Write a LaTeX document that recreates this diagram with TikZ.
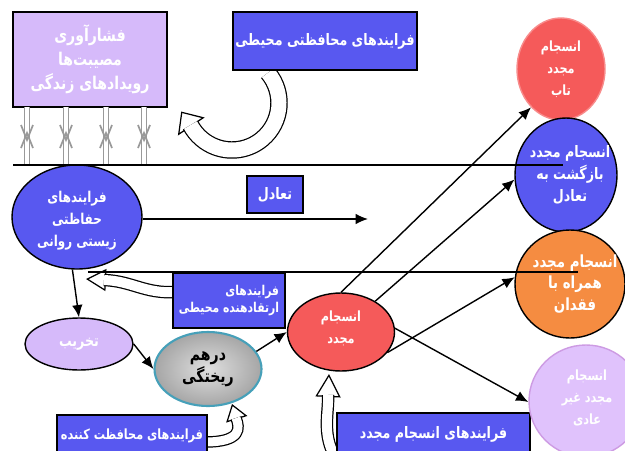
\documentclass[tikz,border=0pt]{standalone}
\usepackage{fontspec}
\newfontfamily\farsi[Script=Arabic,FakeStretch=0.8]{DejaVu Sans}
\TeXXeTstate=1
\usetikzlibrary{calc}
\usetikzlibrary{shapes.geometric}
\usetikzlibrary{arrows.meta}
\tikzset{>=Latex}
\definecolor{lav}{RGB}{214,186,250}
\definecolor{lilac}{RGB}{224,194,252}
\definecolor{bluef}{RGB}{88,88,240}
\definecolor{redf}{RGB}{245,90,90}
\definecolor{orangef}{RGB}{245,140,65}
\definecolor{tealb}{RGB}{70,160,185}
\newcommand{\fa}[1]{\beginR#1\endR}
\newcommand{\fsz}[1]{\farsi\bfseries\fontsize{#1}{12.5}\selectfont}
\def\px{0.02cm}
\tikzstyle{box}=[rectangle,draw=black,line width=0.8pt,inner sep=1pt,text=white,align=center]
\tikzstyle{blob}=[ellipse,draw=black,line width=0.8pt,inner sep=0pt]
\tikzstyle{txt}=[text=white,align=center,inner sep=0pt]
\tikzstyle{link}=[->,line width=0.8pt,>={Latex[length=7pt,width=6pt]}]
\tikzstyle{band}=[line width=0.7pt,double=white,double distance=0.2cm]
\tikzstyle{shaft}=[gray!80,line width=0.7pt,double=white,double distance=0.09cm]

\begin{document}
\begin{tikzpicture}[x=\px,y=-\px,font=\fsz{9}]
  \useasboundingbox (0,0) rectangle (625,450);

  % hollow arrows, tails go under the boxes
  \coordinate (ac) at (232,103);
  \draw[line width=0.7pt,-{Triangle[length=0.36cm,width=0.64cm,fill=white]}]
    ($(ac)+(150:47)$) -- ($(ac)+(150:47)+(236:18)$);
  \draw[band,double distance=0.3cm]
    ($(ac)+(-40:47)$) arc[start angle=-40,end angle=152,radius=47];

  \draw[line width=0.7pt,-{Triangle[length=0.4cm,width=0.44cm,fill=white]}]
    (106,280) -- (86,279);
  \draw[band] (176,292) .. controls (145,294) and (132,281) .. (104,280);

  \draw[line width=0.7pt,-{Triangle[length=0.32cm,width=0.44cm,fill=white]}]
    (237,420) -- (232,404);
  \draw[band,double distance=0.18cm] (205,442) .. controls (242,442) and (240,428) .. (236,418);

  \draw[line width=0.7pt,-{Triangle[length=0.46cm,width=0.5cm,fill=white]}]
    (328,397) -- (329,374);
  \draw[band] (334,455) .. controls (322,432) and (329,412) .. (328,395);

  % boxes
  \node[box,fill=lav,minimum width=154*\px,minimum height=95*\px,font=\farsi\bfseries\fontsize{10}{13.6}\selectfont]
    (stress) at (90,59.5) {\fa{فشارآوری}\\\fa{مصیبت‌ها}\\\fa{رویدادهای زندگی}};
  \node[box,fill=bluef,minimum width=184*\px,minimum height=58*\px] (envprot) at (325,41)
    {\fa{فرایندهای محافظتی محیطی}};
  \node[box,fill=bluef,minimum width=56*\px,minimum height=37*\px] (balance) at (275,194.5)
    {\fa{تعادل}};
  \node[box,fill=bluef,minimum width=112*\px,minimum height=55*\px,align=right,
    font=\farsi\bfseries\fontsize{7.7}{9.8}\selectfont]
    (promote) at (229,300.5) {\fa{فرایندهای}\\\fa{ارتقادهنده محیطی}};
  \node[box,fill=bluef,minimum width=150*\px,minimum height=42*\px,font=\fsz{8}] (protect) at (132,436)
    {\fa{فرایندهای محافظت کننده}};
  \node[box,fill=bluef,minimum width=193*\px,minimum height=42*\px] (reintproc) at (433.5,434)
    {\fa{فرایندهای انسجام مجدد}};

  % ellipses
  \node[blob,fill=bluef,minimum width=130*\px,minimum height=104*\px] (bio) at (77,217) {};
  \node[txt,font=\fsz{8.5}] (biotxt) at (77,221) {\fa{فرایندهای}\\\fa{حفاظتی}\\\fa{زیستی روانی}};
  \node[blob,fill=lav,minimum width=108*\px,minimum height=52*\px] (destroy) at (79,344) {};
  \node[txt] (destroytxt) at (destroy) {\fa{تخریب}};
  \node[blob,draw=tealb,line width=1.2pt,inner color=gray!25,outer color=gray!70,
    minimum width=107*\px,minimum height=74*\px] (chaos) at (208,369) {};
  \node[txt,text=black,font=\fsz{10}] (chaostxt) at (chaos) {\fa{درهم}\\\fa{ریختگی}};
  \node[blob,fill=redf,minimum width=107*\px,minimum height=78*\px] (reint) at (341,332) {};
  \node[txt,font=\fsz{8}] (reinttxt) at (341,328) {\fa{انسجام}\\\fa{مجدد}};
  \node[blob,fill=redf,draw=redf!70,minimum width=88*\px,minimum height=102*\px] (resil) at (561,69) {};
  \node[txt,font=\fsz{8}] (resiltxt) at (561,69) {\fa{انسجام}\\\fa{مجدد}\\\fa{تاب}};
  \node[blob,fill=bluef,minimum width=102*\px,minimum height=114*\px] (back) at (566,175) {};
  \node[txt] (backtxt) at (570,175) {\fa{انسجام مجدد}\\\fa{بازگشت به}\\\fa{تعادل}};
  \node[blob,fill=orangef,minimum width=110*\px,minimum height=108*\px] (loss) at (570,284) {};
  \node[txt,font=\fsz{9.5}] (losstxt) at (575,284) {\fa{انسجام مجدد}\\\fa{همراه با}\\\fa{فقدان}};
  \node[blob,fill=lilac,draw=lilac!80!violet,minimum width=114*\px,minimum height=112*\px] (abnormal) at (586,401) {};
  \node[txt,font=\fsz{8}] (abnormaltxt) at (587,398) {\fa{انسجام}\\\fa{مجدد غیر}\\\fa{عادی}};

  % gray arrows under the stress box
  \foreach \x in {27,66,106,144} {
    \draw[shaft] (\x,107) -- (\x,165);
    \draw[gray!80,line width=1pt] (\x-6,125) -- (\x,140) -- (\x+6,125);
    \draw[gray!80,line width=1pt] (\x-6,148) -- (\x,133) -- (\x+6,148);
  }

  % long lines
  \draw[line width=0.8pt] (13,165) -- (563,165);
  \draw[line width=0.8pt] (88,272) -- (578,272);

  % links
  \coordinate (eqend) at (368,219);
  \draw[link] (bio.east |- eqend) -- (eqend);
  \draw[link] (bio.-95) -- (destroy.north);
  \draw[link] (destroy.east) -- (chaos.west);
  \draw[link] (chaos.20) -- (reint.west);
  \draw[link] (reint.north) -- (resil.232);
  \draw[link] (reint.42) -- (back.185);
  \draw[link] (reint.-24) -- (loss.173);
  \draw[link] (reint.4) -- (abnormal.181);

\end{tikzpicture}
\end{document}
